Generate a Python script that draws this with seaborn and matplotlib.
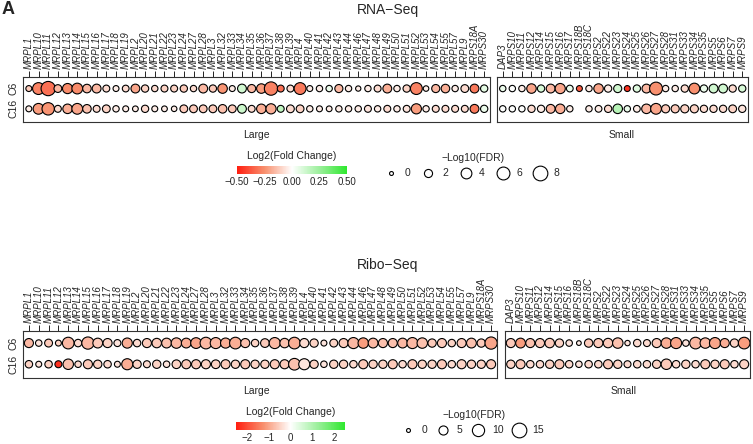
import numpy as np
import pandas as pd
import matplotlib
matplotlib.use("Agg")
import matplotlib.pyplot as plt
import seaborn as sns
from matplotlib.colors import LinearSegmentedColormap, Normalize
from matplotlib.cm import ScalarMappable
from matplotlib.lines import Line2D

large_genes = ["MRPL1", "MRPL10", "MRPL11", "MRPL12", "MRPL13", "MRPL14", "MRPL15", "MRPL16",
               "MRPL17", "MRPL18", "MRPL19", "MRPL2", "MRPL20", "MRPL21", "MRPL22", "MRPL23",
               "MRPL24", "MRPL27", "MRPL28", "MRPL3", "MRPL32", "MRPL33", "MRPL34", "MRPL35",
               "MRPL36", "MRPL37", "MRPL38", "MRPL39", "MRPL4", "MRPL40", "MRPL41", "MRPL42",
               "MRPL43", "MRPL44", "MRPL46", "MRPL47", "MRPL48", "MRPL49", "MRPL50", "MRPL51",
               "MRPL52", "MRPL53", "MRPL54", "MRPL55", "MRPL57", "MRPL9", "MRPS18A", "MRPS30"]
rna_small_genes = ["DAP3", "MRPS10", "MRPS11", "MRPS12", "MRPS14", "MRPS15", "MRPS16", "MRPS17",
                   "MRPS18B", "MRPS18C", "MRPS2", "MRPS22", "MRPS23", "MRPS24", "MRPS25", "MRPS26",
                   "MRPS27", "MRPS28", "MRPS31", "MRPS33", "MRPS34", "MRPS35", "MRPS5", "MRPS6",
                   "MRPS7", "MRPS9"]
ribo_small_genes = ["DAP3", "MRPS10", "MRPS11", "MRPS12", "MRPS14", "MRPS15", "MRPS16", "MRPS18B",
                    "MRPS18C", "MRPS2", "MRPS22", "MRPS23", "MRPS24", "MRPS25", "MRPS26", "MRPS27",
                    "MRPS28", "MRPS31", "MRPS33", "MRPS34", "MRPS35", "MRPS5", "MRPS6", "MRPS7",
                    "MRPS9"]
conditions = ["C6", "C16"]

# RNA-Seq
rna_large_c6_fdr = [0.8, 5.0, 7.5, 1.8, 3.5, 4.0, 2.3, 2.5, 1.3, 0.8, 1.2, 2.5, 1.5, 1.0, 1.3, 1.3,
                    1.5, 1.0, 2.5, 1.5, 3.0, 0.8, 2.5, 2.0, 3.0, 6.5, 1.3, 1.3, 5.0, 0.8, 1.0, 1.0,
                    2.0, 1.0, 0.5, 1.0, 1.3, 2.5, 1.0, 1.5, 5.0, 0.6, 2.0, 2.3, 1.0, 1.8, 2.5, 1.5]
rna_large_c6_fc = [-0.12, -0.28, -0.32, -0.16, -0.26, -0.26, -0.16, -0.16, -0.08, -0.04, -0.08, -0.2,
                   -0.1, -0.08, -0.1, -0.1, -0.12, -0.08, -0.16, -0.12, -0.24, -0.04, 0.12, -0.16,
                   -0.22, -0.28, -0.32, -0.08, -0.3, -0.04, -0.04, 0.05, -0.16, -0.04, -0.04, -0.04,
                   -0.08, -0.18, -0.04, -0.1, -0.28, -0.04, -0.16, -0.18, -0.04, -0.08, -0.3, 0.07]
rna_large_c16_fdr = [0.8, 4.0, 5.5, 1.3, 3.0, 4.0, 2.3, 1.3, 1.8, 1.0, 0.8, 0.7, 1.5, 0.8, 0.7, 0.6,
                     1.8, 1.8, 1.8, 1.8, 2.3, 1.8, 2.5, 1.3, 3.0, 3.5, 1.3, 1.8, 1.8, 1.0, 0.8, 0.7,
                     1.0, 1.0, 1.0, 1.3, 1.0, 1.3, 1.0, 1.3, 3.5, 1.0, 1.3, 1.3, 1.3, 1.3, 2.5, 1.5]
rna_large_c16_fc = [-0.04, -0.22, -0.24, -0.08, -0.18, -0.2, -0.14, -0.08, -0.1, -0.04, -0.04, -0.04,
                    -0.08, -0.04, -0.04, -0.04, -0.12, -0.12, -0.12, -0.12, -0.14, -0.12, 0.13, -0.08,
                    -0.18, -0.18, 0.16, -0.08, -0.1, -0.04, -0.04, -0.04, -0.04, -0.04, -0.04, -0.06,
                    -0.04, -0.08, -0.04, -0.06, -0.22, -0.04, -0.08, -0.08, -0.08, -0.08, -0.3, 0.05]
rna_small_c6_fdr = [1.0, 1.0, 1.0, 3.0, 1.5, 2.5, 3.5, 1.2, 0.8, 1.0, 3.0, 1.5, 2.0, 0.8, 1.5, 2.5,
                    6.0, 1.0, 1.0, 1.5, 4.0, 1.5, 2.5, 2.5, 1.5, 1.5]
rna_small_c6_fc = [0.05, 0.0, -0.04, -0.2, 0.1, -0.16, -0.2, 0.05, -0.36, -0.04, -0.2, -0.04, 0.12,
                   -0.45, 0.08, -0.16, -0.25, -0.04, -0.04, -0.08, -0.25, 0.05, 0.12, 0.12, -0.08, 0.1]
rna_small_c16_fdr = [1.0, 1.0, 1.0, 1.5, 1.5, 2.5, 3.0, 1.0, np.nan, 1.0, 1.2, 1.5, 3.0, 1.0, 1.2, 3.0,
                     4.0, 2.0, 2.0, 2.0, 2.0, 1.5, 1.5, 1.5, 1.8, 1.5]
rna_small_c16_fc = [0.0, 0.0, 0.0, -0.08, -0.04, -0.16, -0.18, -0.04, np.nan, -0.04, -0.04, -0.08, 0.18,
                    0.05, -0.04, -0.16, -0.2, -0.12, -0.12, -0.1, -0.1, -0.08, -0.08, -0.08, -0.1, -0.06]

# Ribo-Seq
ribo_large_c6_fdr = [5, 2, 3.5, 1.5, 9, 3, 10, 6, 5, 2.5, 6.5, 3, 5, 5.5, 6, 7, 6, 7.5, 9, 8, 6.5, 9,
                     5, 3, 4.5, 8, 5.5, 9, 5, 4, 1.5, 3.5, 5, 8, 7, 6, 5, 5, 6, 8, 7, 4, 5, 3, 5, 6, 4, 10]
ribo_large_c6_fc = [-0.8, -0.3, -0.6, -0.5, -0.8, -0.4, -0.8, -0.6, -0.5, -0.3, -0.9, -0.4, -0.6, -0.6,
                    -0.7, -0.8, -0.9, -1.0, -0.8, -0.8, -0.9, -0.9, -0.7, -0.5, -0.6, -0.8, -0.7, -0.9,
                    -0.4, -0.5, -0.3, -0.5, -0.6, -0.8, -1.1, -0.8, -0.7, -0.7, -0.8, -0.8, -0.7, -0.6,
                    -0.6, -0.5, -0.6, -0.7, -0.6, -1.0]
ribo_large_c16_fdr = [3, 1.5, 3, 2.5, 7, 2, 5, 4, 3, 1.5, 8, 4, 2.5, 4, 2, 4.5, 5, 5, 5, 4.5, 5, 4, 5,
                      4, 4, 5, 5, 9, 8, 4, 2, 4, 4, 3, 5, 4, 4, 5, 3, 5, 4, 4, 5, 3, 5, 4, 4, 5]
ribo_large_c16_fc = [-0.5, -0.3, -0.5, -2.3, -0.7, -0.4, -0.6, -0.5, -0.4, -0.3, -0.9, -0.5, -0.4, -0.5,
                     -0.3, -0.5, -0.6, -0.6, -0.5, -0.5, -0.6, -0.5, -0.6, -0.5, -0.5, -0.6, -0.6, -0.7,
                     -0.3, -0.5, -0.3, -0.5, -0.5, -0.4, -0.6, -0.5, -0.5, -0.6, -0.4, -0.6, -0.5, -0.5,
                     -0.6, -0.4, -0.5, -0.5, -0.5, -0.6]
ribo_small_c6_fdr = [5, 6, 5, 5, 5.5, 4, 2, 0.5, 4, 5, 5.5, 7, 1, 3, 2.5, 5, 7, 8, 2, 9, 7, 8, 5, 4, 9]
ribo_small_c6_fc = [-0.6, -1.1, -0.7, -0.6, -0.6, -0.5, -0.3, -0.2, -0.6, -0.6, -0.6, -0.7, -0.3, -0.4,
                    -0.4, -0.6, -0.9, -1.0, -0.3, -0.8, -0.8, -1.0, -0.9, -0.5, -1.1]
ribo_small_c16_fdr = [4, 5, 3, 3, 4, 5, 3, 2, 3, 3, 5, 4, 2.5, 3, 3, 4, 7, 3, 4, 3, 5, 4, 5, 3, 5]
ribo_small_c16_fc = [-0.5, -0.6, -0.4, -0.4, -0.5, -0.6, -0.4, -0.3, -0.4, -0.4, -0.6, -0.5, -0.4, -0.4,
                     -0.4, -0.5, -0.6, -0.4, -0.5, -0.4, -0.6, -0.5, -0.6, -0.4, -0.5]

rna_fc_ticks = [-0.5, -0.25, 0, 0.25, 0.5]
rna_fc_labels = ["\u22120.50", "\u22120.25", "0.00", "0.25", "0.50"]
rna_fdr_levels = [0, 2, 4, 6, 8]
ribo_fc_ticks = [-2, -1, 0, 1, 2]
ribo_fc_labels = ["\u22122", "\u22121", "0", "1", "2"]
ribo_fdr_levels = [0, 5, 10, 15]

sns.set_style("white")
plt.rcParams["font.family"] = ["Liberation Sans", "DejaVu Sans"]

cmap = LinearSegmentedColormap.from_list(
    "rwg", [(0, "#ff1e10"), (0.25, "#f8906e"), (0.5, "#ffffff"), (0.75, "#9cef9c"), (1, "#2ee82e")])
SMIN, SMAX = 8, 112

W, H = 753, 444
fig = plt.figure(figsize=(W / 100, H / 100), dpi=100)


def fax(x0, y0, x1, y1):
    return fig.add_axes([x0 / W, 1 - y1 / H, (x1 - x0) / W, (y1 - y0) / H])


def make_df(genes, c6_fc, c6_fdr, c16_fc, c16_fdr):
    parts = []
    for cond, fc, fdr in [("C6", c6_fc, c6_fdr), ("C16", c16_fc, c16_fdr)]:
        parts.append(pd.DataFrame({"gene": genes, "cond": cond, "fc": fc, "fdr": fdr}))
    return pd.concat(parts, ignore_index=True)


def draw_panel(ax, df, genes, lim, fdr_max, show_ylab):
    sns.scatterplot(data=df.dropna(), x="gene", y="cond", hue="fc", size="fdr",
                    palette=cmap, hue_norm=Normalize(-lim, lim),
                    sizes=(SMIN, SMAX), size_norm=(0, fdr_max),
                    edgecolor="black", linewidth=0.8, legend=False, ax=ax, zorder=3)
    ax.set_xticks(range(len(genes)))
    ax.set_xticklabels(genes, rotation=90, fontstyle="italic", fontsize=7)
    ax.set_xlim(-0.6, len(genes) - 0.4)
    ax.set_yticks([0, 1])
    ax.set_ylim(1.65, -0.57)
    ax.set_xlabel("")
    ax.set_ylabel("")
    ax.tick_params(axis="x", top=True, labeltop=True, bottom=False, labelbottom=False,
                   length=4, width=0.6, color="black", pad=1.5)
    if show_ylab:
        ax.set_yticklabels(conditions, rotation=90, va="center", fontsize=7.5)
        ax.tick_params(axis="y", length=0, pad=3)
    else:
        ax.set_yticklabels([])
        ax.tick_params(axis="y", length=0)
    for s in ax.spines.values():
        s.set_visible(True)
        s.set_color("#333333")
        s.set_linewidth(0.8)


def colorbar(x0, y0, x1, y1, lim, ticks, labels):
    cax = fax(x0, y0, x1, y1)
    cb = fig.colorbar(ScalarMappable(norm=Normalize(-lim, lim), cmap=cmap), cax=cax,
                      orientation="horizontal")
    cb.set_ticks(ticks)
    cb.set_ticklabels(labels)
    cb.outline.set_visible(False)
    cax.tick_params(length=3, width=0.6, color="white", direction="in", labelsize=7, pad=2)
    cax.set_title("Log2(Fold Change)", fontsize=7.5, pad=5)


def size_legend(x, y, levels, fdr_max, gap):
    handles = []
    for v in levels:
        s = SMIN + (SMAX - SMIN) * v / fdr_max
        handles.append(Line2D([], [], marker="o", linestyle="", markersize=np.sqrt(s),
                              markerfacecolor="white", markeredgecolor="black",
                              markeredgewidth=0.8))
    fig.legend(handles, [str(v) for v in levels], ncol=len(levels), loc="upper left",
               bbox_to_anchor=(x / W, 1 - y / H), frameon=False, fontsize=7.5,
               title="\u2212Log10(FDR)", title_fontsize=7.5, handlelength=1.0,
               handletextpad=0.8, columnspacing=gap, borderpad=0)


# panel A: RNA-Seq
fig.text(2 / W, 1 - 1 / H, "A", fontsize=13, fontweight="bold", va="top", ha="left")
fig.text(388 / W, 1 - 10 / H, "RNA\u2212Seq", fontsize=10, ha="center", va="center")
ax1 = fax(23, 77, 490, 122)
draw_panel(ax1, make_df(large_genes, rna_large_c6_fc, rna_large_c6_fdr,
                        rna_large_c16_fc, rna_large_c16_fdr), large_genes, 0.5, 8, True)
ax2 = fax(497, 77, 748, 122)
draw_panel(ax2, make_df(rna_small_genes, rna_small_c6_fc, rna_small_c6_fdr,
                        rna_small_c16_fc, rna_small_c16_fdr), rna_small_genes, 0.5, 8, False)
fig.text(256 / W, 1 - 135 / H, "Large", fontsize=7.5, ha="center", va="center")
fig.text(622 / W, 1 - 135 / H, "Small", fontsize=7.5, ha="center", va="center")
colorbar(237, 166, 347, 174, 0.5, rna_fc_ticks, rna_fc_labels)
size_legend(381, 148, rna_fdr_levels, 8, 1.2)

# Ribo-Seq
fig.text(388 / W, 1 - 265 / H, "Ribo\u2212Seq", fontsize=10, ha="center", va="center")
ax3 = fax(23, 331, 497, 378)
draw_panel(ax3, make_df(large_genes, ribo_large_c6_fc, ribo_large_c6_fdr,
                        ribo_large_c16_fc, ribo_large_c16_fdr), large_genes, 2.5, 15, True)
ax4 = fax(505, 331, 750, 378)
draw_panel(ax4, make_df(ribo_small_genes, ribo_small_c6_fc, ribo_small_c6_fdr,
                        ribo_small_c16_fc, ribo_small_c16_fdr), ribo_small_genes, 2.5, 15, False)
fig.text(256 / W, 1 - 391 / H, "Large", fontsize=7.5, ha="center", va="center")
fig.text(624 / W, 1 - 391 / H, "Small", fontsize=7.5, ha="center", va="center")
colorbar(236, 422, 345, 430, 2.5, ribo_fc_ticks, ribo_fc_labels)
size_legend(398, 405, ribo_fdr_levels, 15, 1.0)

fig.savefig("out.png", dpi=100)
